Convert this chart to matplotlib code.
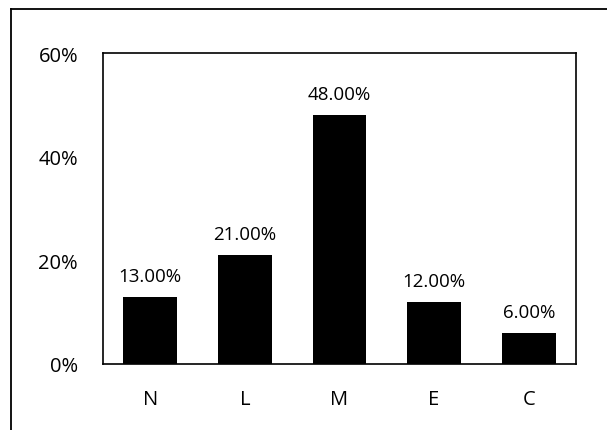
import matplotlib
matplotlib.use("Agg")
import matplotlib.pyplot as plt
from matplotlib.lines import Line2D
from matplotlib.ticker import FuncFormatter

categories = ["N", "L", "M", "E", "C"]
values = [13.0, 21.0, 48.0, 12.0, 6.0]
y_ticks = [0, 20, 40, 60]

plt.rcParams["font.family"] = ["Open Sans", "DejaVu Sans"]

W, H = 607, 431
fig = plt.figure(figsize=(W / 100, H / 100), dpi=100)
fig.patch.set_facecolor("white")

# plot area in pixel coordinates
left, right, top, bottom = 103, 576, 54, 365
ax = fig.add_axes([left / W, 1 - bottom / H, (right - left) / W, (bottom - top) / H])

x = range(len(categories))
bars = ax.bar(x, values, width=0.57, color="black")
for b, v in zip(bars, values):
    ax.text(b.get_x() + b.get_width() / 2, v + 2.3, f"{v:.2f}%",
            ha="center", va="bottom", fontsize=13.5, color="black")

ax.set_xlim(-0.5, len(categories) - 0.5)
ax.set_ylim(0, 60)
ax.set_yticks(y_ticks)
ax.yaxis.set_major_formatter(FuncFormatter(lambda v, p: f"{v:.0f}%"))
ax.set_xticks(list(x))
ax.set_xticklabels(categories)
ax.tick_params(axis="both", length=0, labelsize=14.5)
ax.tick_params(axis="y", pad=18)
ax.tick_params(axis="x", pad=18)
for s in ax.spines.values():
    s.set_linewidth(1.2)
    s.set_color("black")

# outer chart border (top and left edges)
fig.add_artist(Line2D([11 / W, 1], [1 - 10 / H, 1 - 10 / H], transform=fig.transFigure,
                      color="black", linewidth=1.3))
fig.add_artist(Line2D([11 / W, 11 / W], [0, 1 - 10 / H], transform=fig.transFigure,
                      color="black", linewidth=1.3))

fig.savefig("out.png", dpi=100, facecolor="white")
